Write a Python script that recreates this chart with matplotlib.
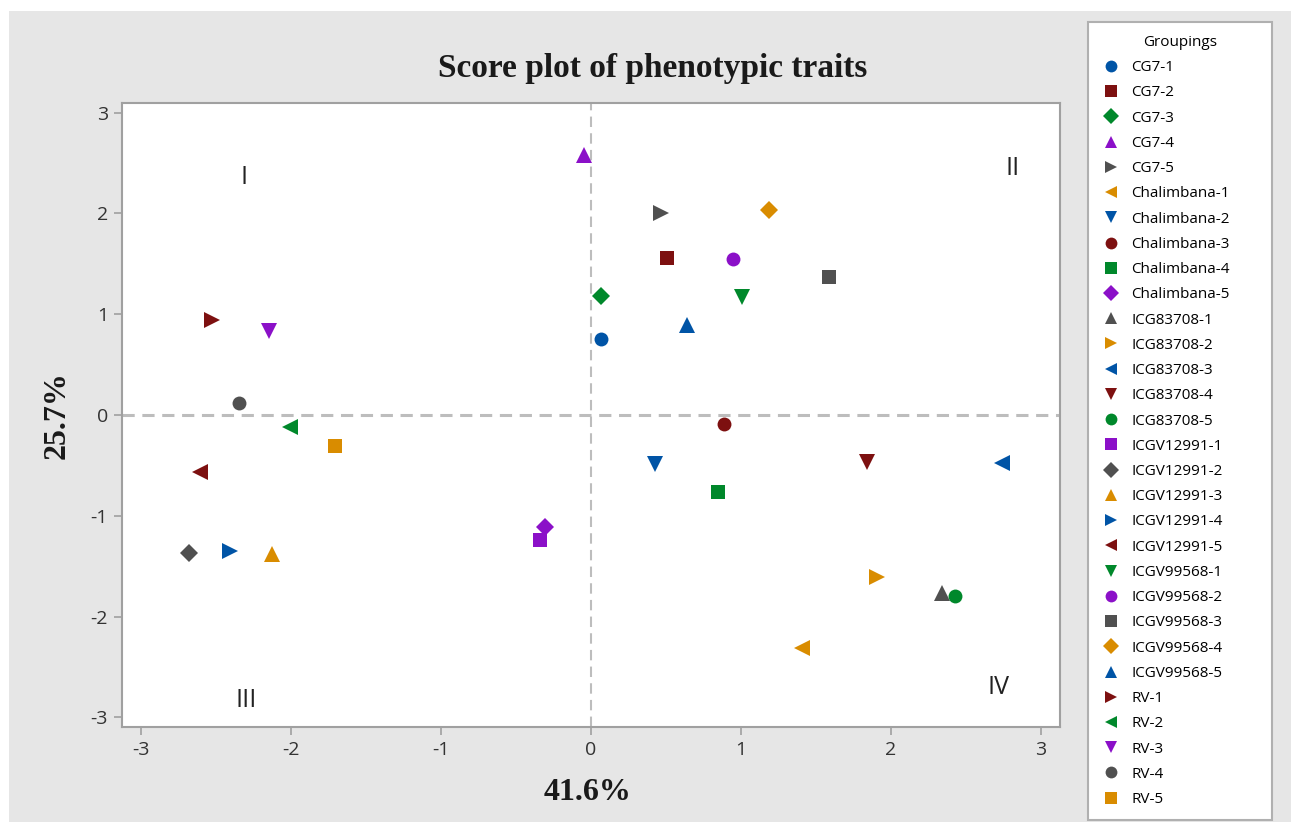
import numpy as np
import matplotlib.pyplot as plt
from matplotlib.patches import Rectangle

plt.rcParams["axes.unicode_minus"] = False

# PCA scores (PC1, PC2) for each genotype/replicate
groups = ["CG7-1", "CG7-2", "CG7-3", "CG7-4", "CG7-5",
          "Chalimbana-1", "Chalimbana-2", "Chalimbana-3", "Chalimbana-4", "Chalimbana-5",
          "ICG83708-1", "ICG83708-2", "ICG83708-3", "ICG83708-4", "ICG83708-5",
          "ICGV12991-1", "ICGV12991-2", "ICGV12991-3", "ICGV12991-4", "ICGV12991-5",
          "ICGV99568-1", "ICGV99568-2", "ICGV99568-3", "ICGV99568-4", "ICGV99568-5",
          "RV-1", "RV-2", "RV-3", "RV-4", "RV-5"]
pc1 = [0.07, 0.51, 0.07, -0.05, 0.47,
       1.41, 0.43, 0.89, 0.85, -0.31,
       2.34, 1.91, 2.74, 1.84, 2.43,
       -0.34, -2.68, -2.13, -2.41, -2.61,
       1.01, 0.95, 1.59, 1.19, 0.64,
       -2.53, -2.01, -2.15, -2.35, -1.71]
pc2 = [0.75, 1.56, 1.18, 2.58, 2.00,
       -2.31, -0.49, -0.09, -0.76, -1.11,
       -1.77, -1.61, -0.48, -0.47, -1.80,
       -1.24, -1.37, -1.38, -1.35, -0.57,
       1.17, 1.55, 1.37, 2.03, 0.89,
       0.94, -0.12, 0.83, 0.12, -0.31]

# symbol and colour cycles
symbols = ["o", "s", "D", "^", ">", "<", "v"]
colors = ["#0054a6", "#7d1010", "#00882b", "#8b10c8", "#505050", "#d98c00"]
sizes = {"o": 10, "s": 10, "D": 9, "^": 11, ">": 11, "<": 11, "v": 11}

quadrants = ["I", "II", "III", "IV"]
quad_x = [-2.31, 2.81, -2.30, 2.72]
quad_y = [2.36, 2.45, -2.83, -2.70]

fig = plt.figure(figsize=(12.91, 8.22), dpi=100)
fig.patch.set_facecolor("white")
fig.patches.append(Rectangle((9 / 1291, 0), 1, 1 - 11 / 822, transform=fig.transFigure,
                             facecolor="#e6e6e6", edgecolor="none", zorder=-10))

ax = fig.add_axes([122 / 1291, 1 - 727 / 822, (1060 - 122) / 1291, (727 - 103) / 822])
ax.set_facecolor("white")

ax.axhline(0, color="#bdbdbd", lw=2.2, ls=(0, (4, 2.5)), zorder=1)
ax.axvline(0, color="#bdbdbd", lw=1.5, ls=(0, (5, 3)), zorder=1)

handles = []
for i, name in enumerate(groups):
    m = symbols[i % 7]
    h, = ax.plot(pc1[i], pc2[i], ls="none", marker=m, ms=sizes[m],
                 color=colors[i % 6], markeredgewidth=0, label=name, zorder=3)
    handles.append(h)

for q, qx, qy in zip(quadrants, quad_x, quad_y):
    ax.text(qx, qy, q, ha="center", va="center", fontsize=18, color="#222222",
            family="Open Sans")

ax.set_xlim(-3.127, 3.127)
ax.set_ylim(-3.095, 3.095)
ax.set_xticks([-3, -2, -1, 0, 1, 2, 3])
ax.set_yticks([-3, -2, -1, 0, 1, 2, 3])
for s in ax.spines.values():
    s.set_color("#a0a0a0")
    s.set_linewidth(1.5)
ax.tick_params(direction="out", length=6, width=1.2, color="#a0a0a0",
               labelsize=14, labelcolor="#333333", pad=4)
for lab in ax.get_xticklabels() + ax.get_yticklabels():
    lab.set_family("Open Sans")

fig.text(653 / 1291, 1 - 69 / 822, "Score plot of phenotypic traits", ha="center",
         va="center", fontsize=24, fontweight="bold", family="Liberation Serif",
         color="#1a1a1a")
fig.text(588 / 1291, 1 - 792 / 822, "41.6%", ha="center", va="center", fontsize=23,
         fontweight="bold", family="Liberation Serif", color="#1a1a1a")
fig.text(57 / 1291, 1 - 415 / 822, "25.7%", ha="center", va="center", fontsize=23,
         fontweight="bold", family="Liberation Serif", color="#1a1a1a", rotation=90)

leg = fig.legend(handles=handles, title="Groupings", loc="upper left",
                 bbox_to_anchor=(1088 / 1291, 1 - 818 / 822, 184 / 1291, 796 / 822),
                 mode="expand", frameon=True, framealpha=1,
                 fancybox=False, edgecolor="#b0b0b0", facecolor="white",
                 prop={"family": "Open Sans", "size": 11},
                 title_fontproperties={"family": "Open Sans", "size": 11},
                 labelspacing=0.67, handletextpad=0.7, borderpad=0.85,
                 handlelength=1.3, markerscale=0.85, borderaxespad=0)
leg.get_frame().set_linewidth(1.5)

plt.savefig("out.png", dpi=100)
